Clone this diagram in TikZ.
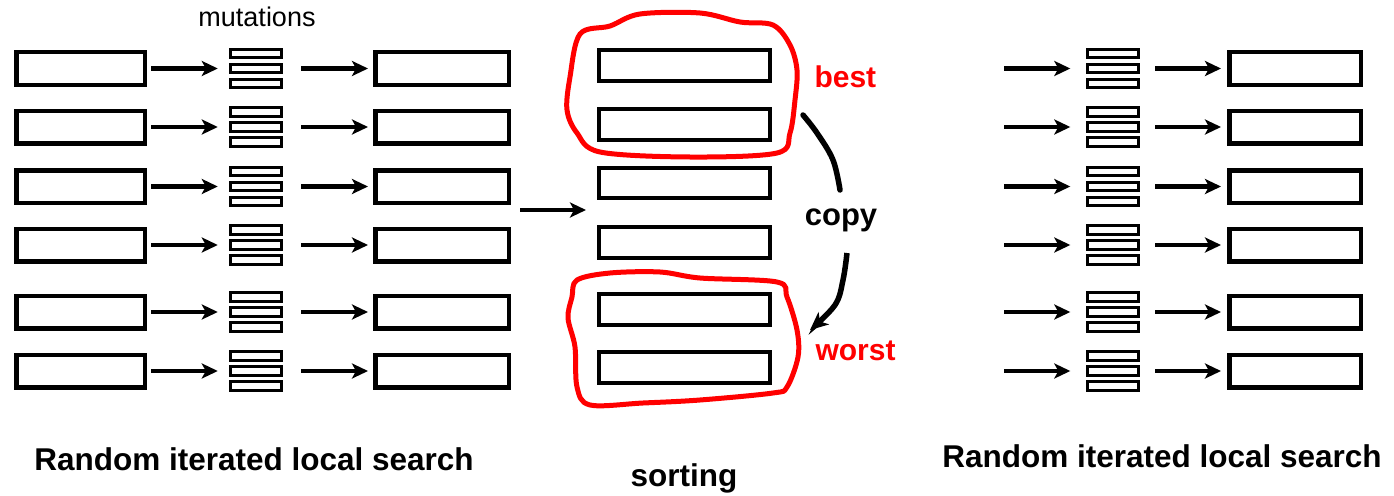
\documentclass[tikz,border=0pt]{standalone}
\usepackage{fontspec}
\setmainfont{Liberation Sans}
\usetikzlibrary{arrows.meta}
\begin{document}
\begin{tikzpicture}[x=1pt,y=-1pt,
  cand/.style={draw, line width=4.5pt, inner sep=0pt, minimum height=32.5pt},
  sorted/.style={draw, line width=4.2pt, inner sep=0pt, minimum width=170.5pt, minimum height=30.5pt},
  stackbox/.style={inner sep=0pt, minimum width=54pt, minimum height=40pt},
  bar/.style={draw, line width=3pt},
  flow/.style={line width=4.6pt, -{Stealth[length=16pt,width=15pt,inset=4pt]}},
  blob/.style={red, line width=5pt, line join=round},
  lbl/.style={font=\bfseries\fontsize{31.5}{36}\selectfont, anchor=base},
  redlbl/.style={font=\bfseries\fontsize{30}{34}\selectfont, anchor=base west, text=red},
]
\useasboundingbox (0,0) rectangle (1394,495);

% left and right columns
\foreach \i/\y in {1/68.5, 2/127, 3/186.5, 4/245, 5/312, 6/371} {
  \node[cand, minimum width=128.5pt] (L\i) at (80.5,\y) {};
  \node[stackbox] (M\i) at (256,\y) {};
  \node[cand, minimum width=133.5pt] (R\i) at (442,\y) {};
  \node[stackbox] (N\i) at (1112.5,\y) {};
  \node[cand, minimum width=131.5pt] (Q\i) at (1295,\y) {};
  \coordinate (P\i) at (1004,\y);
  \foreach \o in {-15,0,15} {
    \draw[bar] ([shift={(-25.5,\o-4.2)}]M\i.center) rectangle ([shift={(25.5,\o+4.2)}]M\i.center);
    \draw[bar] ([shift={(-25.5,\o-4.2)}]N\i.center) rectangle ([shift={(25.5,\o+4.2)}]N\i.center);
  }
  \draw[flow, shorten <=4pt, shorten >=11pt] (L\i.east) -- (M\i.west);
  \draw[flow, shorten <=18pt, shorten >=5pt] (M\i.east) -- (R\i.west);
  \draw[flow, shorten >=15pt] (P\i) -- (N\i.west);
  \draw[flow, shorten <=15.5pt, shorten >=6pt] (N\i.east) -- (Q\i.west);
}

% sorted column
\foreach \i/\y in {1/65.5, 2/124.5, 3/183, 4/242.5, 5/309.5, 6/367.5} {
  \node[sorted] (S\i) at (684.5,\y) {};
}
\coordinate (inA) at (520,210);
\coordinate (inB) at (586,210);
\draw[flow] (inA) -- (inB);

% red outlines
\draw[blob] plot[smooth cycle, tension=0.55] coordinates {
  (570,77) (580,34) (610,26) (640,14) (700,13) (740,22) (773,25) (790,45)
  (797,70) (795,100) (790,133) (777,153) (690,157) (600,152) (577,133) (567,110)};
\draw[blob] plot[smooth cycle, tension=0.55] coordinates {
  (577,280) (610,273) (660,272) (700,278) (777,282) (787,297) (797,330)
  (798,357) (787,387) (773,393) (700,400) (643,403) (590,405) (577,387)
  (575,347) (568,318) (572,297)};

% labels
\node[font=\fontsize{27}{30}\selectfont, anchor=base] (mut) at (257,27) {mutations};
\node[lbl] (lsL) at (254,470) {Random iterated local search};
\node[lbl] (lsR) at (1162,467) {Random iterated local search};
\node[lbl] (sort) at (684,486) {sorting};
\node[redlbl] (best) at (811,88) {best};
\node[redlbl] (worst) at (812,360) {worst};
\node[font=\bfseries\fontsize{31}{34}\selectfont, anchor=base] (copy) at (841,225) {copy};

% copy arrow
\coordinate (c1) at (803,115);
\coordinate (c2) at (840,190);
\coordinate (c3) at (847,253);
\coordinate (c4) at (810,330);
\draw[line width=5.5pt, line cap=round] plot[smooth, tension=0.6] coordinates {(c1) (817,133) (833,160) (c2)};
\draw[line width=5.5pt, -{Stealth[length=18pt,width=16pt,inset=5pt]}] plot[smooth, tension=0.6] coordinates {(c3) (843,280) (835,305) (c4)};
\end{tikzpicture}
\end{document}
